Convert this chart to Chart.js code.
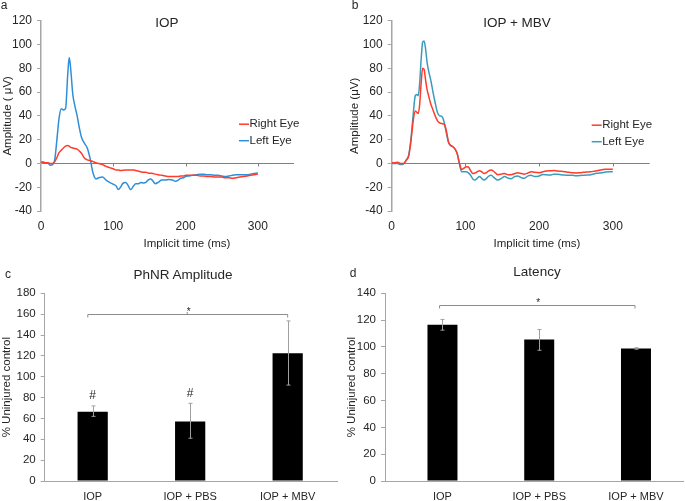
<!DOCTYPE html>
<html>
<head>
<meta charset="utf-8">
<script src="https://cdn.jsdelivr.net/npm/chart.js@4.4.1/dist/chart.umd.min.js"></script>
<style>
  body { margin: 0; background: #fff; }
  #fig { position: relative; width: 685px; height: 501px; overflow: hidden;
         font-family: "Liberation Sans", Arial, sans-serif; color: #262626; }
  #fig canvas { position: absolute; }
  .lbl { position: absolute; transform: translate(-50%, -50%); white-space: nowrap; line-height: 1; }
</style>
</head>
<body>
<div id="fig">
  <canvas id="chartA" width="340" height="250" style="left:0;top:0"></canvas>
  <canvas id="chartB" width="345" height="250" style="left:340px;top:0"></canvas>
  <canvas id="chartC" width="340" height="251" style="left:0;top:250px"></canvas>
  <canvas id="chartD" width="345" height="251" style="left:340px;top:250px"></canvas>

  <div class="lbl" style="left:4px;top:5px;font-size:12px">a</div>
  <div class="lbl" style="left:355px;top:5px;font-size:12px">b</div>
  <div class="lbl" style="left:8px;top:274px;font-size:12px">c</div>
  <div class="lbl" style="left:353px;top:273px;font-size:12px">d</div>

  <div class="lbl" style="left:167px;top:23px;font-size:13.5px">IOP</div>
  <div class="lbl" style="left:517px;top:23px;font-size:13.5px">IOP + MBV</div>
  <div class="lbl" style="left:183px;top:275px;font-size:13.5px">PhNR Amplitude</div>
  <div class="lbl" style="left:537px;top:272px;font-size:13.5px">Latency</div>

  <div class="lbl" style="left:187px;top:244px;font-size:11.5px">Implicit time (ms)</div>
  <div class="lbl" style="left:537px;top:244px;font-size:11.5px">Implicit time (ms)</div>
</div>

<script>
// ---- panel a: IOP (ERG traces) ----
const timeA = [0, 3, 6, 10, 13, 16, 19, 22, 25, 28, 31, 34, 37, 39, 41, 44, 47, 50, 53, 56, 60, 64, 68, 72, 76, 80, 85, 90, 95, 100,
  104, 107, 110, 113, 117, 120, 124, 128, 131, 135, 138, 142, 145, 148, 152, 155, 158, 162, 167, 172, 177, 182, 186, 190, 193, 197, 200,
  205, 210, 215, 220, 225, 230, 235, 240, 245, 250, 255, 260, 265, 270, 275, 280, 285, 290, 295, 300];
const rightEyeA = [1, 1, 0.5, 0.5, 0, 0, 1.5, 5, 9, 11, 13, 14.5, 15, 14.5, 13.5, 13, 12.5, 12, 10.5, 8.5, 4.5, 3, 2.5, 1.5, 0.5, 0, -1, -2.5, -3.5, -4.5,
  -5.5, -5.5, -6, -5.8, -5.5, -5.5, -5.5, -5.5, -6, -6.5, -7, -7.5, -7.5, -8, -8.3, -8.5, -9, -9.5, -10, -10.5, -11, -11, -11, -11, -10.5, -10.5, -10,
  -10, -10, -10, -10.5, -10.5, -11, -11, -11.5, -11.5, -11.5, -12, -12, -12.5, -12, -11.5, -11, -10.5, -10, -9.5, -9];
const leftEyeA = [1, 1, 0.5, 0, -1.5, -1, 3, 20, 38, 46, 45, 46, 75, 89, 80, 58, 48, 40, 30, 22, 17, 13, 4, -8, -13, -12, -11.5, -14, -16, -17.5,
  -19, -22, -20, -17, -16, -18, -22, -19, -17, -17, -16, -16.5, -16, -14, -13, -15, -17, -16, -14, -14, -13.5, -14, -15, -14, -12.5, -12, -11,
  -10.5, -10, -9.5, -9, -9, -9.5, -9.5, -10, -10, -10.5, -11, -10.5, -10, -9.5, -9.5, -9.5, -9.5, -9, -8.5, -8];

// ---- panel b: IOP + MBV (ERG traces) ----
const timeB = [0, 4, 8, 12, 16, 20, 23, 26, 29, 32, 34, 36, 38, 40, 42, 44, 46, 48, 50, 53, 56, 59, 62, 65, 68, 71, 74, 77, 80, 83, 86, 89,
  92, 95, 98, 101, 104, 107, 110, 113, 116, 119, 122, 125, 128, 131, 135, 139, 144, 149, 153, 158, 162, 167, 171, 176, 180, 185, 189, 194,
  200, 205, 210, 215, 220, 225, 230, 235, 240, 245, 250, 255, 260, 265, 270, 275, 280, 285, 290, 295, 300];
const rightEyeB = [0.5, 0.5, 1, 0, 0, 3, 6, 18, 35, 44, 43, 42, 50, 68, 80, 79, 70, 62, 57, 50, 45, 40, 36, 34, 33.5, 33, 28, 18, 15, 14, 12, 8,
  0, -5, -4, -2.8, -3, -6, -8.5, -8, -7, -6.2, -7, -8.4, -8, -6.5, -5.6, -7, -9.5, -9, -8.4, -9.5, -9.5, -8.5, -7.8, -8.5, -9, -8, -7, -7.5,
  -7.8, -7, -6.4, -6.2, -6, -6.4, -6.6, -7, -7.5, -7.8, -8, -7.8, -7.5, -7.2, -7, -6.5, -6, -5.4, -4.8, -4.8, -4.8];
const leftEyeB = [0, 0, 0, -1, -0.5, 3, 7, 20, 40, 57, 58, 57, 68, 88, 102, 103, 96, 85, 78, 70, 60, 51, 43, 40, 39.5, 35, 26, 18, 15, 14, 12, 8,
  -1, -7, -7, -7, -8, -10, -13, -14, -12.5, -11, -12.5, -14, -13, -11, -10, -12, -14, -12.5, -11, -12.5, -12.8, -11, -10.5, -12, -12.5, -10.5, -10, -11,
  -10.5, -9.3, -9.5, -9.8, -9, -9, -9.5, -9.8, -10, -10, -10.4, -10.2, -10, -9.8, -9.5, -8.6, -8.2, -7.8, -7.3, -7, -7];

const ergXTicks = [0, 100, 200, 300];

// ---- panels c, d: bar charts ----
const groups = ['IOP', 'IOP + PBS', 'IOP + MBV'];
const amplitudeMean = [66.5, 57, 122.5];
const amplitudeLow = [62, 41, 92];
const amplitudeHigh = [72, 74.5, 153.5];
const amplitudeMarks = ['#', '#', ''];
const latencyMean = [116.5, 105.5, 98.8];
const latencyLow = [112.5, 97.5, 98.3];
const latencyHigh = [120.5, 113, 99.4];
const latencyMarks = ['', '', ''];

const FONT = '"Liberation Sans", Arial, sans-serif';
const TEXT = '#262626';
const AXIS = '#a6a6a6';
Chart.defaults.font.family = FONT;
Chart.defaults.color = TEXT;

// legend drawn inside the plot area, plus small ticks on the zero line
const innerLegend = {
  id: 'innerLegend',
  afterDatasetsDraw(chart, args, opts) {
    const { ctx, chartArea } = chart;
    ctx.save();
    // ticks on the zero line
    const xs = chart.scales.x, y0 = chart.scales.y.getPixelForValue(0);
    ctx.strokeStyle = '#808080';
    ctx.lineWidth = 1;
    ergXTicks.slice(1).forEach(v => {
      const px = Math.round(xs.getPixelForValue(v)) + 0.5;
      ctx.beginPath(); ctx.moveTo(px, y0); ctx.lineTo(px, y0 + 3); ctx.stroke();
    });
    ctx.font = '11.5px ' + FONT;
    ctx.textBaseline = 'middle';
    chart.data.datasets.forEach((ds, i) => {
      const x = chartArea.left + opts.x;
      const y = chartArea.top + opts.y + i * opts.gap;
      ctx.strokeStyle = ds.borderColor;
      ctx.lineWidth = 1.5;
      ctx.beginPath(); ctx.moveTo(x, y); ctx.lineTo(x + 10, y); ctx.stroke();
      ctx.fillStyle = TEXT;
      ctx.fillText(ds.label, x + 10.5, y);
    });
    ctx.restore();
  }
};

// error bars, significance marks and bracket
const errorBars = {
  id: 'errorBars',
  afterDatasetsDraw(chart, args, o) {
    const { ctx } = chart;
    const xs = chart.scales.x, ys = chart.scales.y;
    const bars = chart.getDatasetMeta(0).data;
    ctx.save();
    ctx.strokeStyle = '#a0a0a0';
    ctx.lineWidth = 1;
    ctx.fillStyle = TEXT;
    ctx.textAlign = 'center';
    ctx.textBaseline = 'middle';
    bars.forEach((bar, i) => {
      const x = Math.round(bar.x) + 0.5;
      const top = ys.getPixelForValue(o.high[i]);
      const bot = ys.getPixelForValue(o.low[i]);
      ctx.beginPath();
      ctx.moveTo(x, top); ctx.lineTo(x, bot);
      ctx.moveTo(x - 2, top); ctx.lineTo(x + 2, top);
      ctx.moveTo(x - 2, bot); ctx.lineTo(x + 2, bot);
      ctx.stroke();
      if (o.marks[i]) {
        ctx.font = '12px ' + FONT;
        ctx.fillText(o.marks[i], bar.x, top - 10);
      }
    });
    const b = o.bracket;
    const yb = Math.round(ys.getPixelForValue(b.level)) + 0.5;
    const x0 = xs.getPixelForValue(b.from), x1 = xs.getPixelForValue(b.to);
    ctx.strokeStyle = '#8c8c8c';
    ctx.beginPath();
    ctx.moveTo(x0, yb + 3); ctx.lineTo(x0, yb); ctx.lineTo(x1, yb); ctx.lineTo(x1, yb + 3);
    if (b.mid !== undefined) {
      const xm = xs.getPixelForValue(b.mid);
      ctx.moveTo(xm, yb); ctx.lineTo(xm, yb - 2.5);
    }
    ctx.stroke();
    ctx.font = '10px ' + FONT;
    ctx.textBaseline = 'alphabetic';
    ctx.fillText('*', (x0 + x1) / 2 + 1, yb + 0.5);
    ctx.restore();
  }
};

function ergChart(id, times, right, left, blue, yTitle, titlePad, yWidth, legend) {
  return new Chart(document.getElementById(id), {
    type: 'line',
    data: {
      datasets: [
        { label: 'Right Eye', data: times.map((t, i) => ({ x: t, y: right[i] })), borderColor: '#ff3b2b', borderWidth: 1.5,
          pointRadius: 0, cubicInterpolationMode: 'monotone' },
        { label: 'Left Eye', data: times.map((t, i) => ({ x: t, y: left[i] })), borderColor: blue, borderWidth: 1.5,
          pointRadius: 0, cubicInterpolationMode: 'monotone' }
      ]
    },
    options: {
      responsive: false,
      animation: false,
      layout: { padding: { top: 20.7, right: 300 - yWidth - 256 + 43, left: 0, bottom: 0 } },
      scales: {
        x: {
          type: 'linear', min: 0, max: 350,
          afterBuildTicks: s => { s.ticks = ergXTicks.map(v => ({ value: v })); },
          ticks: { font: { size: 12 }, padding: 8 },
          grid: { display: false, drawTicks: false },
          border: { display: false },
          afterFit: s => { s.height = 39; }
        },
        y: {
          min: -40, max: 120,
          ticks: { stepSize: 20, font: { size: 12 }, padding: 5 },
          grid: { drawTicks: true, tickLength: 4, tickColor: AXIS, lineWidth: 1,
                  color: ctx => (ctx.tick && ctx.tick.value === 0 ? '#808080' : 'rgba(0,0,0,0)') },
          border: { color: AXIS, width: 1.5 },
          title: { display: true, text: yTitle, font: { size: 11.5 }, padding: { top: titlePad, bottom: 0 } },
          afterFit: s => { s.width = yWidth; }
        }
      },
      plugins: { legend: { display: false }, tooltip: { enabled: false }, innerLegend: legend }
    },
    plugins: [innerLegend]
  });
}

ergChart('chartA', timeA, rightEyeA, leftEyeA, '#2e8fd8', 'Amplitude ( \u03bcV)', 1, 41, { x: 198, y: 103.5, gap: 16.5 });
ergChart('chartB', timeB, rightEyeB, leftEyeB, '#3a9cbc', 'Amplitude (\u03bcV)', 8, 51.7, { x: 200, y: 104.5, gap: 16.5 });

function barChart(id, mean, low, high, marks, yMax, yWidth, xMin, xMax, rightPad, titlePad, bracket) {
  return new Chart(document.getElementById(id), {
    type: 'bar',
    data: {
      datasets: [{ data: mean.map((v, i) => ({ x: i, y: v })), backgroundColor: '#000', borderWidth: 0,
                   barPercentage: 0.31, categoryPercentage: 1 }]
    },
    options: {
      responsive: false,
      animation: false,
      layout: { padding: { top: 43.3, right: rightPad, left: 0, bottom: 0 } },
      scales: {
        x: {
          type: 'linear', min: xMin, max: xMax, offset: false,
          afterBuildTicks: s => { s.ticks = groups.map((g, i) => ({ value: i })); },
          ticks: { callback: v => groups[v], font: { size: 11 }, padding: 9 },
          grid: { display: false, drawTicks: false },
          border: { color: AXIS, width: 1 },
          afterFit: s => { s.height = 20; }
        },
        y: {
          min: 0, max: yMax,
          ticks: { stepSize: 20, font: { size: 11.5 }, padding: 5 },
          grid: { drawOnChartArea: false, drawTicks: true, tickLength: 4, tickColor: AXIS },
          border: { color: AXIS, width: 1 },
          title: { display: true, text: '% Uninjured control', font: { size: 11.5 }, padding: { top: titlePad, bottom: 0 } },
          afterFit: s => { s.width = yWidth; }
        }
      },
      plugins: { legend: { display: false }, tooltip: { enabled: false },
                 errorBars: { low, high, marks, bracket } }
    },
    plugins: [errorBars]
  });
}

barChart('chartC', amplitudeMean, amplitudeLow, amplitudeHigh, amplitudeMarks, 180, 44.7, -0.492, 2.506, 3, 0,
         { from: -0.05, to: 2, mid: 0.97, level: 160 });
barChart('chartD', latencyMean, latencyLow, latencyHigh, latencyMarks, 140, 45, -0.594, 2.486, 2, 5,
         { from: -0.03, to: 1.99, level: 131.5 });
</script>
</body>
</html>
